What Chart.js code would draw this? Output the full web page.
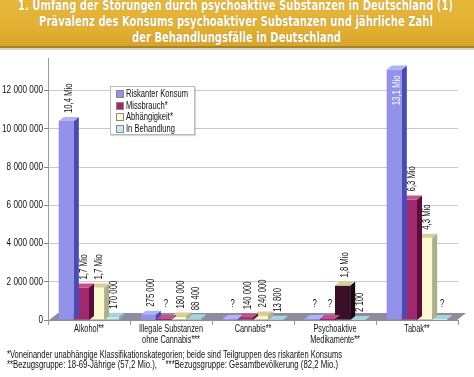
<!DOCTYPE html>
<html>
<head>
<meta charset="utf-8">
<script src="https://cdn.jsdelivr.net/npm/chart.js@4"></script>
<style>
html,body{margin:0;padding:0;background:#fff;}
body{width:474px;height:377px;position:relative;overflow:hidden;font-family:"Liberation Sans Narrow","Liberation Sans",sans-serif;}
#banner{position:absolute;left:0;top:0;width:474px;height:46px;background:linear-gradient(180deg,#e6b83a 0%,#e2b033 60%,#d8a52c 100%);border-bottom:2px solid #a88420;}
#shadow{position:absolute;left:0;top:48px;width:474px;height:2px;background:#d8d4cc;}
.tl{position:absolute;left:0;width:474px;height:16px;color:#fff;font-family:"DejaVu Sans Condensed","DejaVu Sans",sans-serif;font-weight:bold;font-size:14px;line-height:15px;white-space:nowrap;text-shadow:0 0 1px rgba(120,80,0,0.5);}
.tl span,.fn span{position:absolute;left:0;top:0;display:block;white-space:nowrap;transform-origin:left center;}
.fn{position:absolute;left:7px;width:460px;height:10px;color:#111;font-size:10px;line-height:10px;white-space:nowrap;}
#wrap{position:absolute;left:0;top:0;width:474px;height:377px;}
#legend{position:absolute;left:110px;top:86px;width:83px;height:47px;border:1px solid #b8b8b8;background:#fff;box-shadow:1px 1px 1px rgba(0,0,0,0.15);}
.li{position:absolute;left:5px;height:11px;font-size:11px;line-height:11px;color:#111;white-space:nowrap;}
.li .tx{position:absolute;left:10px;top:0;white-space:nowrap;transform-origin:left center;}
.sq{position:absolute;left:0;top:2px;width:6px;height:6px;border:1px solid #888;}
</style>
</head>
<body>
<div id="wrap"><canvas id="c" width="474" height="377"></canvas></div>
<div id="banner"></div>
<div id="shadow"></div>
<div class="tl" style="top:-2px" data-x="18" data-w="435"><span>1. Umfang der Störungen durch psychoaktive Substanzen in Deutschland (1)</span></div>
<div class="tl" style="top:14px" data-x="39" data-w="394"><span>Prävalenz des Konsums psychoaktiver Substanzen und jährliche Zahl</span></div>
<div class="tl" style="top:30px" data-x="132" data-w="209"><span>der Behandlungsfälle in Deutschland</span></div>
<div id="legend"></div>
<div class="fn" style="top:350px" data-x="0" data-w="335"><span>*Voneinander unabhängige Klassifikationskategorien; beide sind Teilgruppen des riskanten Konsums</span></div>
<div class="fn" style="top:360px" data-x="0" data-w="331"><span>**Bezugsgruppe: 18-69-Jährige (57,2 Mio.),&nbsp;&nbsp;&nbsp; ***Bezugsgruppe: Gesamtbevölkerung (82,2 Mio.)</span></div>
<script>
// ---- data ----
const categories = [["Alkohol**"], ["Illegale Substanzen", "ohne Cannabis***"], ["Cannabis**"], ["Psychoaktive", "Medikamente**"], ["Tabak**"]];
const seriesNames = ["Riskanter Konsum", "Missbrauch*", "Abhängigkeit*", "In Behandlung"];
const riskanterKonsum = [10400000, 275000, null, null, 13100000];
const missbrauch      = [1700000, null, 140000, null, 6300000];
const abhaengigkeit   = [1700000, 180000, 240000, 1800000, 4300000];
const inBehandlung    = [170000, 88400, 13800, 2100, null];
const labelsRiskant   = ["10,4 Mio", "275 000", "?", "?", "13,1 Mio"];
const labelsMissbr    = ["1,7 Mio", "?", "140 000", "?", "6,3 Mio"];
const labelsAbh       = ["1,7 Mio", "180 000", "240 000", "1,8 Mio", "4,3 Mio"];
const labelsBeh       = ["170 000", "88 400", "13 800", "2 100", "?"];
const yTicks = [0, 2000000, 4000000, 6000000, 8000000, 10000000, 12000000];

// ---- styles ----
const FONT = '"Liberation Sans Narrow","Liberation Sans",sans-serif';
const front = ["#9292ea", "#a2286e", "#fbfbd2", "#c6ecef"];
const side  = ["#4a4ab4", "#5e0c3c", "#aeae8a", "#7eaab2"];
const top_  = ["#b2b2f4", "#c4508e", "#d8d090", "#a6d6dc"];
const specialFront = {"2-3": "#3a1028"};
const specialSide = {"2-3": "#1c0612"};
const allLabels = [labelsRiskant, labelsMissbr, labelsAbh, labelsBeh];
const DX = 5, DY = 4;
const TXT = '#111';

const mctx = document.createElement('canvas').getContext('2d');
function fitScale(text, target, size, weight) {
  mctx.font = (weight || '') + ' ' + size + 'px ' + FONT;
  return Math.min(1, target / mctx.measureText(text).width);
}
const Y_SIZE = 10, X_SIZE = 10.5, V_SIZE = 10.5;
const ySX = fitScale('12 000 000', 41, Y_SIZE);
const xSX = fitScale('Illegale Substanzen', 64, X_SIZE);
const vSX = fitScale('170 000', 28, V_SIZE);

function sText(ctx, txt, x, y, align, sx) {
  ctx.save();
  ctx.translate(x, y);
  ctx.scale(sx, 1);
  ctx.textAlign = align;
  ctx.fillText(txt, 0, 0);
  ctx.restore();
}

// legend
const lg = document.getElementById('legend');
seriesNames.forEach((n, i) => {
  const d = document.createElement('div');
  d.className = 'li';
  d.style.top = (1 + i * 11.7) + 'px';
  d.innerHTML = '<span class="sq" style="background:' + front[i] + '"></span><span class="tx">' + n + '</span>';
  lg.appendChild(d);
});
(function () {
  const spans = lg.querySelectorAll('.tx');
  const w0 = spans[0].getBoundingClientRect().width;
  const s = Math.min(1, 62 / w0);
  spans.forEach(sp => sp.style.transform = 'scaleX(' + s + ')');
})();

// fit text widths
document.querySelectorAll('[data-w]').forEach(el => {
  const s = el.querySelector('span');
  const w = s.getBoundingClientRect().width;
  const t = parseFloat(el.dataset.w);
  s.style.left = el.dataset.x + 'px';
  s.style.transform = 'scaleX(' + (t / w) + ')';
});

function poly(ctx, pts, fill) {
  ctx.beginPath();
  ctx.moveTo(pts[0][0], pts[0][1]);
  for (let i = 1; i < pts.length; i++) ctx.lineTo(pts[i][0], pts[i][1]);
  ctx.closePath();
  ctx.fillStyle = fill;
  ctx.fill();
}

const floorPlugin = {
  id: 'floor',
  beforeDatasetsDraw(chart) {
    const {ctx, chartArea: a} = chart;
    ctx.save();
    poly(ctx, [[a.left, a.bottom + 1], [a.right - 2, a.bottom + 1], [a.right + 8, a.bottom - 7], [a.left + 10, a.bottom - 7]], '#8e8c9c');
    ctx.restore();
  }
};

const axisText = {
  id: 'axisText',
  afterDraw(chart) {
    const ctx = chart.ctx;
    const ys = chart.scales.y, xs = chart.scales.x;
    ctx.save();
    ctx.fillStyle = TXT;
    ctx.textBaseline = 'middle';
    ctx.font = Y_SIZE + 'px ' + FONT;
    ys.ticks.forEach((t, k) => {
      const lbl = t.value === 0 ? '0' : t.value.toString().replace(/\B(?=(\d{3})+(?!\d))/g, ' ');
      sText(ctx, lbl, ys.right - 5, ys.getPixelForTick(k), 'right', ySX);
    });
    ctx.font = X_SIZE + 'px ' + FONT;
    categories.forEach((lines, k) => {
      const x = xs.getPixelForTick(k);
      lines.forEach((ln, m) => sText(ctx, ln, x, xs.top + 9 + m * 11, 'center', xSX));
    });
    ctx.restore();
  }
};

const threeD = {
  id: 'threeD',
  afterDatasetDraw(chart, args) {
    const ctx = chart.ctx;
    const i = args.index;
    const meta = args.meta;
    const y0 = chart.scales.y.getPixelForValue(0);
    ctx.save();
    meta.data.forEach((el, j) => {
      const w = el.width;
      const l = el.x - w / 2, r = el.x + w / 2;
      const v = chart.data.datasets[i].data[j];
      const key = i + '-' + j;
      let ty = (v == null || isNaN(el.y)) ? y0 - 1 : el.y;
      if (v == null) {
        poly(ctx, [[l, y0], [r, y0], [r, ty], [l, ty]], specialFront[key] || front[i]);
      }
      poly(ctx, [[r, ty], [r + DX, ty - DY], [r + DX, y0 - DY], [r, y0]], specialSide[key] || side[i]);
      poly(ctx, [[l, ty], [l + DX, ty - DY], [r + DX, ty - DY], [r, ty]], top_[i]);
    });
    ctx.restore();
  }
};

const labelPlugin = {
  id: 'valLabels',
  afterDatasetsDraw(chart) {
    const ctx = chart.ctx;
    const a = chart.chartArea;
    const y0 = chart.scales.y.getPixelForValue(0);
    ctx.save();
    ctx.font = V_SIZE + 'px ' + FONT;
    chart.data.datasets.forEach((ds, i) => {
      const meta = chart.getDatasetMeta(i);
      meta.data.forEach((el, j) => {
        const txt = allLabels[i][j];
        if (!txt) return;
        const cx = el.x + DX / 2;
        ctx.textBaseline = 'middle';
        if (txt === '?') {
          ctx.fillStyle = TXT;
          sText(ctx, '?', cx, y0 - 16, 'center', vSX);
          return;
        }
        const tw = ctx.measureText(txt).width * vSX;
        const barTop = isNaN(el.y) ? y0 : el.y;
        const inside = barTop - 10 - tw < a.top - 4;
        ctx.save();
        ctx.translate(cx, inside ? barTop + 6 : barTop - 8);
        ctx.rotate(-Math.PI / 2);
        ctx.fillStyle = inside ? '#ffffff' : TXT;
        sText(ctx, txt, 0, 0, inside ? 'right' : 'left', vSX);
        ctx.restore();
      });
    });
    ctx.restore();
  }
};

const seriesData = [riskanterKonsum, missbrauch, abhaengigkeit, inBehandlung];
const datasets = seriesData.map((d, i) => ({
  label: seriesNames[i],
  data: d,
  backgroundColor: d.map((v, j) => specialFront[i + '-' + j] || front[i]),
  borderWidth: 0,
  categoryPercentage: 0.74,
  barPercentage: 1.0
}));

new Chart(document.getElementById('c'), {
  type: 'bar',
  data: {labels: categories, datasets},
  options: {
    responsive: false,
    animation: false,
    devicePixelRatio: 1,
    layout: {padding: {top: 58, left: 0, right: 16, bottom: 27}},
    plugins: {legend: {display: false}, tooltip: {enabled: false}, title: {display: false}},
    scales: {
      x: {
        grid: {display: true, drawOnChartArea: false, offset: true, tickLength: 5, color: '#9a9a9a'},
        border: {color: '#9a9a9a'},
        ticks: {color: 'rgba(0,0,0,0)', font: {family: FONT, size: 10}, padding: 1, maxRotation: 0, autoSkip: false},
        afterFit(s) { s.height = 30; }
      },
      y: {
        min: 0,
        max: 13700000,
        afterBuildTicks(s) { s.ticks = yTicks.map(v => ({value: v})); },
        grid: {color: '#cfc6ca', tickLength: 4, drawTicks: true, tickColor: '#888'},
        border: {color: '#9a9a9a'},
        ticks: {color: 'rgba(0,0,0,0)', font: {family: FONT, size: 8}, padding: 2},
        afterFit(s) { s.width = 48; }
      }
    }
  },
  plugins: [floorPlugin, threeD, labelPlugin, axisText]
});
</script>
</body>
</html>
